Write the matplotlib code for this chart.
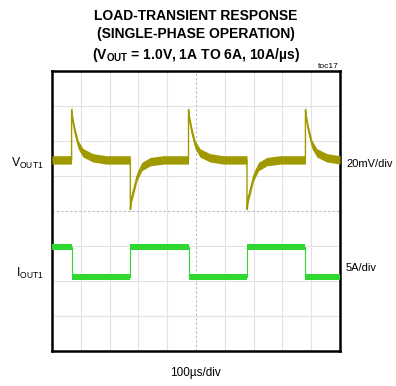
import numpy as np
import matplotlib.pyplot as plt

plt.rcParams['font.family'] = ['Liberation Sans', 'DejaVu Sans']
plt.rcParams['mathtext.fontset'] = 'custom'
plt.rcParams['mathtext.rm'] = 'Liberation Sans'
plt.rcParams['mathtext.bf'] = 'Liberation Sans:bold'

# scope settings
t_div = 100.0      # us/div
v_div = 20.0       # mV/div
i_div = 5.0        # A/div
v_offset = 1.46    # div, VOUT1 trace position
i_offset = -2.08   # div, IOUT1 zero position

# load edges (us) and current levels (A)
edge_times = [68, 272, 474, 677, 880]
i_high = 5.3
i_low = 1.0

# output voltage deviation after each edge (us after edge, mV)
release_dt = [0, 4, 11.5, 23, 40, 74, 120]
release_dv = [28.6, 22.5, 16.2, 8.6, 4.0, 1.2, 0.0]
apply_dt = [0, 4, 11.5, 23, 40, 69, 115]
apply_dv = [-28.2, -22.0, -17.2, -9.6, -3.8, -1.0, 0.0]

# build the traces
vt, vv = [0.0], [0.0]
it, iv = [0.0], [i_high]
level = i_high
for k, te in enumerate(edge_times):
    new = i_low if level == i_high else i_high
    it += [te, te]
    iv += [level, new]
    level = new
    dts, dvs = (release_dt, release_dv) if k % 2 == 0 else (apply_dt, apply_dv)
    vt.append(te)
    vv.append(0.0)
    for dt, dv in zip(dts, dvs):
        vt.append(te + dt)
        vv.append(dv)
it.append(1000.0)
iv.append(level)
vt.append(1000.0)
vv.append(vv[-1])

vt = np.array(vt)
vy = v_offset + np.array(vv) / v_div
it = np.array(it)
iy = i_offset + np.array(iv) / i_div

fig = plt.figure(figsize=(3.96, 3.86), dpi=100)
ax = fig.add_axes([52 / 396, 35 / 386, 288 / 396, 280 / 386])
ax.set_xlim(0, 10)
ax.set_ylim(-4, 4)

for x in range(1, 10):
    if x == 5:
        ax.axvline(x, color='#bbbbbb', lw=0.8, ls=(0, (2, 2)), zorder=1)
    else:
        ax.axvline(x, color='#e2e2e2', lw=0.8, zorder=1)
for y in range(-3, 4):
    if y == 0:
        ax.axhline(y, color='#bbbbbb', lw=0.8, ls=(0, (2, 2)), zorder=1)
    else:
        ax.axhline(y, color='#e2e2e2', lw=0.8, zorder=1)

tx = vt / t_div
ax.fill_between(tx, vy - 0.12, vy + 0.12, color='#a09a00', lw=0, zorder=3)
ax.plot(tx, vy, color='#a09a00', lw=1.0, zorder=4)

ix = it / t_div
ax.fill_between(ix, iy - 0.09, iy + 0.09, color='#2fd82f', lw=0, zorder=3)
ax.plot(ix, iy, color='#2fd82f', lw=0.8, zorder=4)

ax.set_xticks([])
ax.set_yticks([])
for s in ax.spines.values():
    s.set_linewidth(1.8)
    s.set_color('black')

tsize = 10.0
fig.text(196 / 396, 1 - 16 / 386, 'LOAD-TRANSIENT RESPONSE', ha='center', va='center',
         fontsize=tsize, fontweight='bold')
fig.text(196 / 396, 1 - 34 / 386, '(SINGLE-PHASE OPERATION)', ha='center', va='center',
         fontsize=tsize, fontweight='bold')
fig.text(196 / 396, 1 - 55 / 386, r'(V$_{\mathbf{OUT}}$ = 1.0V, 1A TO 6A, 10A/µs)',
         ha='center', va='center', fontsize=tsize, fontweight='bold')
fig.text(328 / 396, 1 - 66 / 386, 'toc17', ha='center', va='center', fontsize=6)

fig.text(44 / 396, 1 - 163 / 386, r'V$_{\mathrm{OUT1}}$', ha='right', va='center', fontsize=8.8)
fig.text(44 / 396, 1 - 273 / 386, r'I$_{\mathrm{OUT1}}$', ha='right', va='center', fontsize=8.8)
fig.text(346 / 396, 1 - 164 / 386, '20mV/div', ha='left', va='center', fontsize=8)
fig.text(346 / 396, 1 - 268 / 386, '5A/div', ha='left', va='center', fontsize=8)
fig.text(195 / 396, 1 - 373 / 386, '100µs/div', ha='center', va='center', fontsize=8.5)

fig.savefig('out.png', dpi=100)
